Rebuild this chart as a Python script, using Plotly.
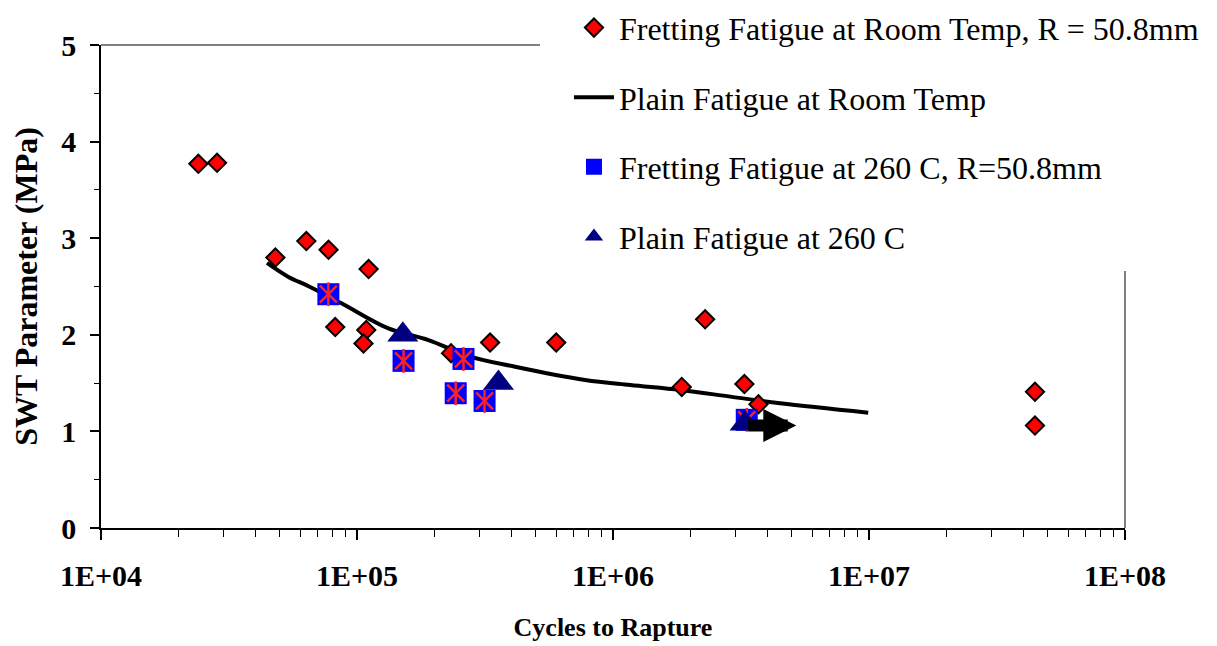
import math
import plotly.graph_objects as go

# ---------------- data ----------------
rt_fret_N = [24000, 28400, 48000, 63400, 77400, 111000, 82200, 108700, 106000,
             233000, 331000, 600000, 1.856e6, 2.29e6, 3.26e6, 3.70e6, 4.45e7, 4.45e7]
rt_fret_S = [3.77, 3.78, 2.80, 2.97, 2.88, 2.68, 2.08, 2.05, 1.91,
             1.81, 1.92, 1.92, 1.46, 2.16, 1.49, 1.28, 1.41, 1.06]

rt_plain_N = [44500, 54000, 64700, 87300, 132700, 190200, 272500, 414600,
              778000, 1.167e6, 1.83e6, 2.87e6, 4.49e6, 9.93e6]
rt_plain_S = [2.744, 2.599, 2.503, 2.324, 2.066, 1.945, 1.780, 1.669,
              1.532, 1.480, 1.429, 1.360, 1.291, 1.194]

ht_fret_N = [77300, 152000, 260600, 243000, 315000, 3.33e6]
ht_fret_S = [2.42, 1.73, 1.75, 1.395, 1.315, 1.12]

ht_plain_N = [151000, 357000, 3.28e6]
ht_plain_S = [2.00, 1.50, 1.08]

runout_from_N = 3.33e6
runout_to_N = 5.2e6
runout_S = 1.06

x_tick_vals = [1e4, 1e5, 1e6, 1e7, 1e8]
x_tick_text = ["1E+04", "1E+05", "1E+06", "1E+07", "1E+08"]

names = ["Fretting Fatigue at Room Temp, R = 50.8mm",
         "Plain Fatigue at Room Temp",
         "Fretting Fatigue at 260 C, R=50.8mm",
         "Plain Fatigue at 260 C"]

SERIF = "Liberation Serif"

fig = go.Figure()

# plain fatigue room temp curve
fig.add_trace(go.Scatter(
    x=rt_plain_N, y=rt_plain_S, mode="lines", name=names[1],
    line=dict(color="black", width=4, shape="spline", smoothing=1.0),
    legendrank=2, legendgroup="b"))

# fretting fatigue room temp
fig.add_trace(go.Scatter(
    x=rt_fret_N, y=rt_fret_S, mode="markers", name=names[0],
    marker=dict(symbol="diamond", size=14, color="#FF0000",
                line=dict(color="black", width=2)),
    legendrank=1, legendgroup="a"))

# fretting fatigue 260C: blue square + red star overlay
fig.add_trace(go.Scatter(
    x=ht_fret_N, y=ht_fret_S, mode="markers", name=names[2],
    marker=dict(symbol="square", size=22, color="#0000FF",
                line=dict(width=0)),
    legendrank=3, legendgroup="c"))
fig.add_trace(go.Scatter(
    x=ht_fret_N, y=ht_fret_S, mode="markers", showlegend=False,
    marker=dict(symbol="x-thin-open", size=17, color="#FF2020",
                line=dict(color="#FF2020", width=2.5)),
    legendgroup="c", hoverinfo="skip"))
fig.add_trace(go.Scatter(
    x=ht_fret_N, y=ht_fret_S, mode="markers", showlegend=False,
    marker=dict(symbol="line-ns-open", size=17, color="#FF2020",
                line=dict(color="#FF2020", width=2.5)),
    legendgroup="c", hoverinfo="skip"))

# plain fatigue 260C
fig.add_trace(go.Scatter(
    x=ht_plain_N, y=ht_plain_S, mode="markers", name=names[3],
    marker=dict(symbol="triangle-up", size=27, color="#000080",
                line=dict(width=0)),
    legendrank=4, legendgroup="d"))

# run-out arrow
fig.add_annotation(
    x=math.log10(runout_to_N), y=runout_S,
    ax=math.log10(runout_from_N), ay=runout_S,
    xref="x", yref="y", axref="x", ayref="y",
    text="", showarrow=True, arrowhead=2, arrowsize=0.55,
    arrowwidth=12, arrowcolor="black")

# partial plot frame (gray) top and right
fig.add_shape(type="line", xref="paper", yref="paper",
              x0=0, x1=0.4287, y0=1, y1=1,
              line=dict(color="#808080", width=2))
fig.add_shape(type="line", xref="paper", yref="paper",
              x0=1, x1=1, y0=0, y1=0.532,
              line=dict(color="#808080", width=2))

fig.update_layout(
    width=1217, height=646,
    margin=dict(l=101, r=92, t=45, b=118, autoexpand=False),
    paper_bgcolor="white", plot_bgcolor="white",
    font=dict(family=SERIF, color="black"),
    showlegend=True,
    hovermode=False,
    legend=dict(
        x=0.457, y=1.0925, xanchor="left", yanchor="top",
        bgcolor="rgba(255,255,255,0)",
        font=dict(family=SERIF, size=32, color="black"),
        tracegroupgap=25, itemwidth=40,
    ),
    xaxis=dict(
        type="log", range=[4, 8],
        tickvals=x_tick_vals, ticktext=x_tick_text,
        tickfont=dict(family=SERIF, size=30, color="black", weight="bold"),
        ticks="outside", ticklen=10, tickwidth=1.5, tickcolor="black",
        ticklabelstandoff=10,
        showline=True, linecolor="black", linewidth=1.5,
        showgrid=False, zeroline=False,
        minor=dict(ticks="outside", ticklen=7, tickwidth=1.2,
                   tickcolor="black", dtick="D1", showgrid=False),
        title=dict(text="Cycles to Rapture",
                   font=dict(family=SERIF, size=26, color="black", weight="bold"),
                   standoff=27),
    ),
    yaxis=dict(
        range=[0, 5], dtick=1, tick0=0,
        tickfont=dict(family=SERIF, size=30, color="black", weight="bold"),
        ticks="outside", ticklen=9, tickwidth=1.5, tickcolor="black",
        ticklabelstandoff=8,
        showline=True, linecolor="black", linewidth=1.5,
        showgrid=False, zeroline=False,
        minor=dict(ticks="outside", ticklen=5, tickwidth=1.2,
                   tickcolor="black", dtick=0.5, showgrid=False),
        title=dict(text="SWT Parameter (MPa)",
                   font=dict(family=SERIF, size=32, color="black", weight="bold"),
                   standoff=14),
    ),
)

fig.write_html("out.html",
               config={"displayModeBar": False},
               post_script="document.body.style.margin='0';document.body.style.overflow='hidden';")
